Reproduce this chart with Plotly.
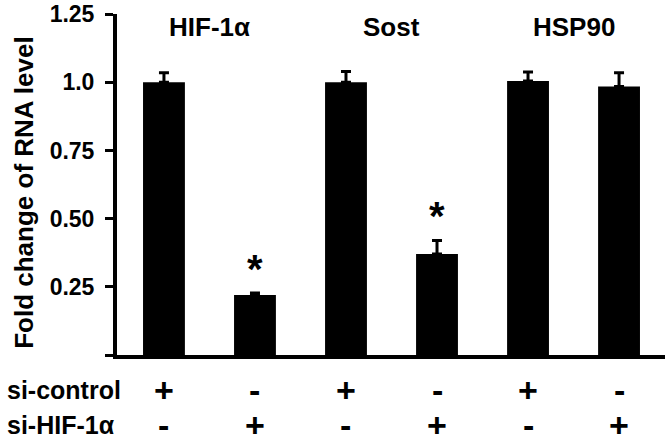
import plotly.graph_objects as go

# Data.
bars = [0, 1, 2, 3, 4, 5]
fold_change = [1.0, 0.22, 1.0, 0.37, 1.005, 0.985]
errors = [0.035, 0.007, 0.04, 0.05, 0.033, 0.05]
significant = [False, True, False, True, False, False]
genes = ["HIF-1α", "Sost", "HSP90"]
gene_pos = [0.5, 2.5, 4.5]
si_control = ["+", "-", "+", "-", "+", "-"]
si_hif = ["-", "+", "-", "+", "-", "+"]
row_labels = ["si-control", "si-HIF-1α"]

font = "Liberation Sans, Arial, sans-serif"

fig = go.Figure()
fig.add_trace(go.Bar(
    x=bars, y=fold_change, width=0.46,
    marker=dict(color="black", line=dict(width=0)),
    error_y=dict(type="data", array=errors, arrayminus=[0] * len(errors),
                 symmetric=False, color="black", thickness=3, width=5),
))

annotations = []
# Gene headers.
for name, pos in zip(genes, gene_pos):
    annotations.append(dict(x=pos, y=1.202, xref="x", yref="y", text=name,
                            showarrow=False, xanchor="center", yanchor="middle",
                            font=dict(size=26)))
# Significance stars.
for x, v, e, s in zip(bars, fold_change, errors, significant):
    if s:
        annotations.append(dict(x=x, y=v + e, xref="x", yref="y", text="*",
                                showarrow=False, xanchor="center",
                                yanchor="middle", yshift=24,
                                font=dict(size=40)))
# Treatment rows under the axis.
for row_y, label, signs in [(-0.104, row_labels[0], si_control),
                            (-0.206, row_labels[1], si_hif)]:
    annotations.append(dict(x=-0.205, y=row_y, xref="paper", yref="paper",
                            text=label, showarrow=False, xanchor="left",
                            yanchor="middle", font=dict(size=25)))
    for x, sgn in zip(bars, signs):
        annotations.append(dict(x=x, y=row_y, xref="x", yref="paper",
                                text=sgn, showarrow=False, xanchor="center",
                                yanchor="middle", font=dict(size=34)))
# Y axis title.
annotations.append(dict(x=-0.17, y=0.478, xref="paper", yref="paper",
                        text="Fold change of RNA level", textangle=-90,
                        showarrow=False, xanchor="center", yanchor="middle",
                        font=dict(size=26)))

fig.update_layout(
    width=672, height=444,
    margin=dict(l=117, r=7, t=14, b=89),
    plot_bgcolor="white", paper_bgcolor="white",
    font=dict(family=font, color="black", weight="bold"),
    showlegend=False,
    annotations=annotations,
    xaxis=dict(range=[-0.516, 5.505], showticklabels=False, showgrid=False,
               zeroline=False, showline=True, linecolor="black", linewidth=4,
               ticks="", automargin=False),
    yaxis=dict(range=[0, 1.2505], tickvals=[0, 0.25, 0.5, 0.75, 1.0, 1.25],
               ticktext=["", "0.25", "0.50", "0.75", "1.0", "1.25"],
               ticks="outside", ticklen=8, tickwidth=3, tickcolor="black",
               showgrid=False, zeroline=False, showline=True,
               linecolor="black", linewidth=4, automargin=False,
               tickfont=dict(size=23), ticklabelstandoff=6),
)

# Drop the page margin so the chart sits flush in the window, hide modebar.
fig.write_html("out.html", config={"displayModeBar": False},
               post_script="document.body.style.margin='0';")
